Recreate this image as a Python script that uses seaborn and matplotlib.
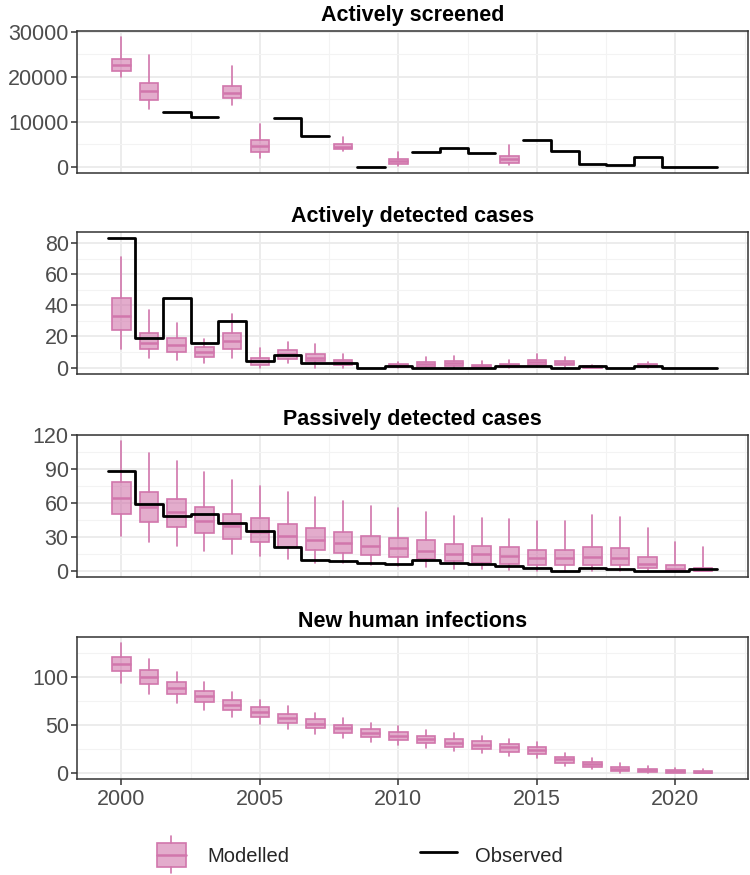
import numpy as np
import pandas as pd
import matplotlib
matplotlib.use('Agg')
import matplotlib.pyplot as plt
import seaborn as sns
from matplotlib.legend_handler import HandlerBase
from matplotlib.patches import Rectangle
from matplotlib.lines import Line2D

nan = np.nan
years = list(range(2000, 2022))

# Actively screened
screened_obs = [nan, nan, 12200, 11000, nan, nan, 10700, 6700, nan, 0, nan,
                3150, 4030, 3000, nan, 5800, 3450, 650, 300, 2200, 0, 0]
screened_box_years = [2000, 2001, 2004, 2005, 2008, 2010, 2014]
screened_lo = [19800, 12800, 13600, 2000, 3400, 150, 300]
screened_q1 = [21200, 14700, 15200, 3200, 3800, 600, 800]
screened_med = [22500, 16800, 16400, 4500, 4400, 1170, 1600]
screened_q3 = [24000, 18500, 18000, 5800, 5100, 1750, 2400]
screened_hi = [28700, 24900, 22400, 9500, 6600, 3300, 4830]

# Actively detected cases
active_obs = [83, 19, 45, 16, 30, 4, 8, 3, 3, 0, 1, 0, 0, 0, 1, 1, 0, 1, 0, 1, 0, 0]
active_box_years = [2000, 2001, 2002, 2003, 2004, 2005, 2006, 2007, 2008,
                    2010, 2011, 2012, 2013, 2014, 2015, 2016, 2017, 2019]
active_lo = [11.8, 5.9, 4.8, 2.9, 6.1, 0, 2.9, 0, 0, 0, 0, 0, 0, 0, 0.6, 0.2, 0, 0]
active_q1 = [23.9, 11.6, 9.7, 7, 11.8, 1.7, 5.5, 4.2, 1.7, 0.3, 0.6, 1, 0, 0.2, 1.7, 1.5, 0, 0.2]
active_med = [33.2, 16, 14.4, 10.2, 17.1, 4.2, 8.6, 5.9, 3.8, 1.3, 2.3, 3.2, 1, 1.5, 3.6, 3.2, 0.3, 1.3]
active_q3 = [45, 22, 19, 13.1, 22, 6.1, 11.2, 8.4, 5.1, 2.3, 3.4, 4.4, 1.7, 2.3, 4.6, 4.2, 0.8, 2.1]
active_hi = [70.9, 36.8, 28.8, 18.6, 34.7, 12.7, 16.5, 14.8, 8.9, 3.4, 7, 7.6, 4.2, 4.8, 8.9, 7, 1.5, 3.4]

# Passively detected cases
passive_obs = [88, 59, 48, 50, 42, 35, 21, 9, 8, 7, 6, 9, 7, 6, 4, 2, 0, 2, 1, 0, 0, 1]
passive_lo = [30.6, 25.6, 21.8, 17.6, 14.7, 13, 10, 7.1, 7, 4.8, 4.1, 2.7, 1.5, 1.2, 0.6, 0, 0, 0, 0, 0, 0, 0]
passive_q1 = [50, 43.2, 38.3, 33, 28, 25, 21.2, 18.3, 15.9, 13.6, 12.1, 10.3, 8.3, 6.5, 5.6, 5, 5, 5.3, 4.8, 1.8, 0, 0]
passive_med = [63.9, 56.5, 52, 44.1, 39.7, 34.4, 30.9, 27.1, 24.2, 22.1, 20.3, 17.6, 14.7, 14.5, 12.7, 10.9,
               10.9, 12.4, 10.9, 5.6, 1.2, 0.6]
passive_q3 = [78.5, 69.7, 63, 56.5, 49.8, 46.2, 40.9, 37.9, 33.8, 30.9, 28.9, 26.8, 23.9, 22.1, 20.6, 18.5,
              18.5, 20.6, 19.7, 11.8, 5, 2.1]
passive_hi = [114.4, 104.5, 96.8, 87.4, 80.6, 74.7, 69.7, 65.3, 61.5, 57.4, 55.6, 51.5, 48.3, 46.5, 45.3, 44.1,
              44.1, 49.1, 47.6, 37.4, 25.6, 20.6]

# New human infections (modelled only)
infect_lo = [93.5, 82.1, 72.8, 65.6, 57.9, 51.1, 45.5, 40, 35.9, 31.8, 28.3, 25.6, 22.4, 20, 17.6, 15.5,
             7.2, 3.8, 0, 0, 0, 0]
infect_q1 = [105.5, 92.5, 82.1, 73.8, 64.9, 57.9, 51.7, 45.9, 41.4, 37.2, 33.5, 30.4, 26.9, 24.5, 21.7, 19.3,
             10.3, 6.2, 1.8, 0.4, 0, 0]
infect_med = [113.2, 100, 88.3, 79.3, 70.3, 62.8, 56.6, 51.1, 45.9, 41.4, 38.3, 34.9, 31, 29, 26.3, 23.5,
              13.9, 9, 4.1, 2.8, 1.4, 0.4]
infect_q3 = [120.7, 106.6, 94.5, 85.2, 75.5, 68, 61.4, 55.5, 50, 45.5, 41.8, 38.3, 34.9, 32.5, 29.7, 26.9,
             16.2, 11.1, 6.2, 4.1, 2.4, 1.4]
infect_hi = [134.5, 117.9, 104.5, 94.5, 83.5, 75.9, 69, 62.5, 56.9, 52.1, 48.3, 44.2, 40.8, 38, 34.5, 32.1,
             20, 15.2, 9.7, 6.9, 5.2, 3.8]

PINK = '#D176AC'
FILL = (0.82, 0.46, 0.67, 0.6)

sns.set_theme(style='whitegrid')
plt.rcParams['font.family'] = ['Liberation Sans', 'DejaVu Sans']


def box_stats(lo, q1, med, q3, hi):
    return [dict(whislo=a, q1=b, med=c, q3=d, whishi=e, fliers=[])
            for a, b, c, d, e in zip(lo, q1, med, q3, hi)]


def step_frame(yrs, values):
    # each observed year is a flat segment from year-0.5 to year+0.5; gaps break the line
    rows = []
    seg = 0
    for y, v in zip(yrs, values):
        if np.isnan(v):
            seg += 1
            continue
        rows.append((y - 0.5, v, seg))
        rows.append((y + 0.5, v, seg))
    return pd.DataFrame(rows, columns=['x', 'y', 'seg'])


def draw_panel(ax, title, box_years, stats, obs, yticks, show_x=False):
    ax.bxp(stats, positions=box_years, widths=0.67, patch_artist=True,
           showfliers=False, showcaps=False, manage_ticks=False, zorder=3,
           boxprops=dict(facecolor=FILL, edgecolor=PINK, linewidth=1.2),
           whiskerprops=dict(color=PINK, linewidth=1.2),
           medianprops=dict(color=PINK, linewidth=1.8))
    top = max(s['whishi'] for s in stats)
    if obs is not None:
        df = step_frame(years, obs)
        sns.lineplot(data=df, x='x', y='y', units='seg', estimator=None, sort=False,
                     color='black', linewidth=2.0, ax=ax, legend=False, zorder=4)
        top = max(top, np.nanmax(obs))
    ax.set_ylim(-0.05 * top, 1.05 * top)
    ax.set_xlim(1998.4, 2022.6)
    ax.set_xticks(range(2000, 2021, 5))
    ax.set_xticks(np.arange(2002.5, 2023, 5), minor=True)
    ax.set_yticks(yticks)
    step = yticks[1] - yticks[0]
    ax.set_yticks(np.arange(yticks[0] + step / 2, 1.05 * top, step), minor=True)
    ax.set_xlabel('')
    ax.set_ylabel('')
    ax.grid(which='major', color='#EBEBEB', linewidth=1.3)
    ax.grid(which='minor', color='#F3F3F3', linewidth=0.8)
    for sp in ax.spines.values():
        sp.set_color('#333333')
        sp.set_linewidth(1.1)
    ax.tick_params(which='minor', length=0)
    ax.tick_params(axis='y', which='major', left=True, length=4, width=1.1, color='#333333',
                   labelsize=15.5, labelcolor='#4D4D4D', pad=2)
    if show_x:
        ax.tick_params(axis='x', which='major', bottom=True, length=4, width=1.1, color='#333333',
                       labelsize=15.5, labelcolor='#4D4D4D', pad=3)
    else:
        ax.tick_params(axis='x', which='major', bottom=False, labelbottom=False)
    ax.set_title(title, fontsize=15.5, fontweight='bold', color='black', pad=7)


class BoxKey(HandlerBase):
    def create_artists(self, legend, orig_handle, xdescent, ydescent, width, height, fontsize, trans):
        cx = -xdescent + width / 2
        cy = -ydescent + height / 2
        bw = width * 0.8
        bh = height
        rect = Rectangle((cx - bw / 2, cy - bh / 2), bw, bh, facecolor=FILL, edgecolor=PINK,
                         linewidth=1.2, transform=trans)
        med = Line2D([cx - bw / 2, cx + bw / 2], [cy, cy], color=PINK, linewidth=1.8, transform=trans)
        w1 = Line2D([cx, cx], [cy + bh / 2, cy + bh * 0.75], color=PINK, linewidth=1.2, transform=trans)
        w2 = Line2D([cx, cx], [cy - bh / 2, cy - bh * 0.75], color=PINK, linewidth=1.2, transform=trans)
        return [rect, med, w1, w2]


fig = plt.figure(figsize=(7.5, 8.75), dpi=100)
left, width, height = 0.1027, 0.894, 0.1623
bottoms = [0.8023, 0.5726, 0.3406, 0.1097]
axes = [fig.add_axes([left, b, width, height]) for b in bottoms]

draw_panel(axes[0], 'Actively screened', screened_box_years,
           box_stats(screened_lo, screened_q1, screened_med, screened_q3, screened_hi),
           screened_obs, [0, 10000, 20000, 30000])
draw_panel(axes[1], 'Actively detected cases', active_box_years,
           box_stats(active_lo, active_q1, active_med, active_q3, active_hi),
           active_obs, [0, 20, 40, 60, 80])
draw_panel(axes[2], 'Passively detected cases', years,
           box_stats(passive_lo, passive_q1, passive_med, passive_q3, passive_hi),
           passive_obs, [0, 30, 60, 90, 120])
draw_panel(axes[3], 'New human infections', years,
           box_stats(infect_lo, infect_q1, infect_med, infect_q3, infect_hi),
           None, [0, 50, 100], show_x=True)

box_handle = Rectangle((0, 0), 1, 1)
line_handle = Line2D([], [], color='black', linewidth=2.0)
fig.legend(handles=[box_handle, line_handle], labels=['Modelled', 'Observed'],
           handler_map={box_handle: BoxKey()}, loc='center', bbox_to_anchor=(0.477, 0.023),
           ncol=2, frameon=False, fontsize=14.5, handlelength=1.8, handleheight=1.5,
           handletextpad=0.9, columnspacing=6.5)

fig.savefig('out.png', dpi=100)
